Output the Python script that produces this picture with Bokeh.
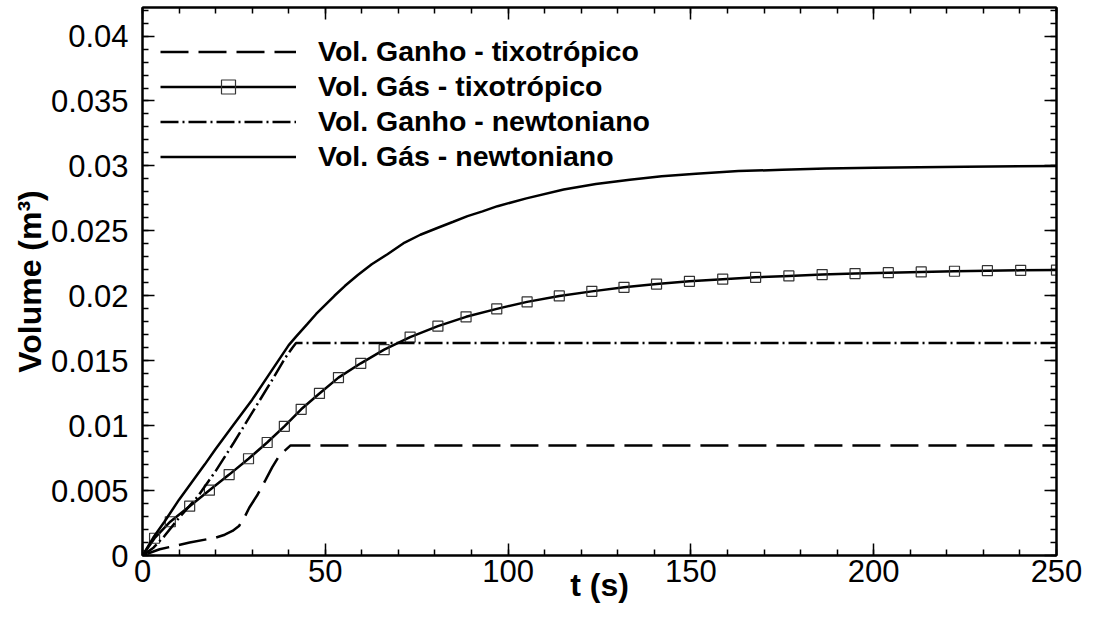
from bokeh.plotting import figure
from bokeh.models import (LinearAxis, SingleIntervalTicker, CustomJSTickFormatter,
                          Range1d, Legend, LegendItem)
from bokeh.embed import file_html
from bokeh.resources import INLINE

# ---------------- data ----------------
t_ganho_tixo = [0, 4.7, 12.9, 20.1, 22.5, 24.6, 26.4, 28.0, 29.2, 31.5, 33.7, 35.5, 37.3, 39.0, 40.5, 250]
v_ganho_tixo = [0, 0.00048, 0.0010, 0.00138, 0.0016, 0.00189, 0.00227, 0.0030, 0.00368, 0.0047,
                0.00584, 0.0068, 0.00763, 0.0081, 0.00848, 0.00848]

t_gas_tixo = [0, 3.3, 7.6, 12.9, 18.3, 23.7, 29.0, 34.1, 38.8, 43.4, 48.4, 53.6, 59.7, 66.1, 73.2,
              80.8, 88.5, 96.9, 105.2, 114.0, 122.9, 131.7, 140.6, 149.6, 158.7, 167.7, 176.8,
              185.9, 194.9, 204.0, 213.0, 222.1, 231.1, 240.2, 250.0]
v_gas_tixo = [0, 0.00133, 0.0026, 0.0038, 0.00503, 0.00623, 0.00745, 0.0087, 0.00995, 0.01126,
              0.01248, 0.0137, 0.0148, 0.01585, 0.01682, 0.01766, 0.01838, 0.01899, 0.01953,
              0.01999, 0.02034, 0.02065, 0.0209, 0.02111, 0.02128, 0.02142, 0.02153, 0.02163,
              0.02171, 0.02178, 0.02184, 0.02189, 0.02193, 0.02196, 0.02198]

t_ganho_newt = [0, 3, 6, 10, 15, 20, 25, 30, 35, 39, 41, 42, 250]
v_ganho_newt = [0, 0.0006, 0.0015, 0.0029, 0.0045, 0.0065, 0.0087, 0.0110, 0.0133, 0.0152,
                0.0160, 0.01636, 0.01636]

t_gas_newt = [0, 3, 6, 10, 17, 20, 25, 30, 35, 40, 42, 45, 47.5, 50, 52.5, 55.4, 58.9, 62.7, 67,
              71.7, 76, 80.8, 85, 88.9, 93, 97.1, 105, 115.2, 124, 133.3, 142, 151.4, 163, 175,
              187, 200, 225, 250]
v_gas_newt = [0, 0.0014, 0.0026, 0.0043, 0.0070, 0.0082, 0.0101, 0.0120, 0.0141, 0.0162,
              0.01685, 0.0178, 0.0186, 0.0193, 0.0200, 0.02077, 0.0216, 0.02243, 0.0232, 0.0241,
              0.0247, 0.02524, 0.0257, 0.02613, 0.0265, 0.0269, 0.0275, 0.02818, 0.0286,
              0.02894, 0.0292, 0.0294, 0.0296, 0.0297, 0.0298, 0.02985, 0.02993, 0.0300]

labels = ["Vol. Ganho - tixotrópico", "Vol. Gás - tixotrópico",
          "Vol. Ganho - newtoniano", "Vol. Gás - newtoniano"]

FONT = "Liberation Sans"

p = figure(width=1083, height=605, output_backend="svg", toolbar_location=None,
           x_range=Range1d(0, 250), y_range=Range1d(0, 0.0422),
           x_axis_type=None, y_axis_type=None,
           min_border_left=142, min_border_right=27, min_border_top=7, min_border_bottom=50)
p.outline_line_color = "black"
p.outline_line_width = 2
p.background_fill_color = "white"

fmt = CustomJSTickFormatter(code="return String(Number(tick.toFixed(4)));")
blank = CustomJSTickFormatter(code="return '';")


def make_axis(interval, labelled, label_text=None):
    ax = LinearAxis(ticker=SingleIntervalTicker(interval=interval, num_minor_ticks=5))
    ax.major_tick_in = 12
    ax.major_tick_out = 0
    ax.minor_tick_in = 6
    ax.minor_tick_out = 0
    ax.axis_line_width = 2
    ax.major_tick_line_width = 1.5
    ax.minor_tick_line_width = 1.5
    ax.axis_line_color = "black"
    ax.major_tick_line_color = "black"
    ax.minor_tick_line_color = "black"
    if labelled:
        ax.formatter = fmt
        ax.major_label_text_font = FONT
        ax.major_label_text_font_size = "31px"
        ax.major_label_text_color = "black"
        if label_text:
            ax.axis_label = label_text
            ax.axis_label_text_font = FONT
            ax.axis_label_text_font_style = "bold"
            ax.axis_label_text_font_size = "32px"
            ax.axis_label_text_color = "black"
    else:
        ax.formatter = blank
        ax.major_label_text_font_size = "1px"
        ax.major_label_standoff = 0
    return ax


xb = make_axis(50, True, "t (s)")
xb.major_label_standoff = 4
xb.axis_label_standoff = -18
yl = make_axis(0.005, True, "Volume (m³)")
yl.major_label_standoff = 14
yl.axis_label_standoff = 0
xt = make_axis(50, False)
yr = make_axis(0.005, False)
p.add_layout(xb, "below")
p.add_layout(yl, "left")
p.add_layout(xt, "above")
p.add_layout(yr, "right")

r1 = p.line(t_ganho_tixo, v_ganho_tixo, line_color="black", line_width=2.5, line_dash="28 10")
r2 = p.line(t_gas_tixo, v_gas_tixo, line_color="black", line_width=2.5)
r2m = p.scatter(t_gas_tixo, v_gas_tixo, marker="square", size=10, fill_alpha=0,
                line_color="#333333", line_width=1.2)
r3 = p.line(t_ganho_newt, v_ganho_newt, line_color="black", line_width=2.5, line_dash="18 4 2 4")
r4 = p.line(t_gas_newt, v_gas_newt, line_color="black", line_width=2.5)

legend = Legend(items=[LegendItem(label=labels[0], renderers=[r1]),
                       LegendItem(label=labels[1], renderers=[r2, r2m]),
                       LegendItem(label=labels[2], renderers=[r3]),
                       LegendItem(label=labels[3], renderers=[r4])],
                location=(18, 381), orientation="vertical")
legend.glyph_width = 136
legend.glyph_height = 35
legend.label_height = 35
legend.label_standoff = 22
legend.spacing = 0
legend.padding = 0
legend.margin = 0
legend.border_line_alpha = 0
legend.background_fill_alpha = 0
legend.label_text_font = FONT
legend.label_text_font_style = "bold"
legend.label_text_font_size = "28.5px"
legend.label_text_color = "black"
p.add_layout(legend, "center")

open("out.html", "w").write(file_html(p, INLINE))
